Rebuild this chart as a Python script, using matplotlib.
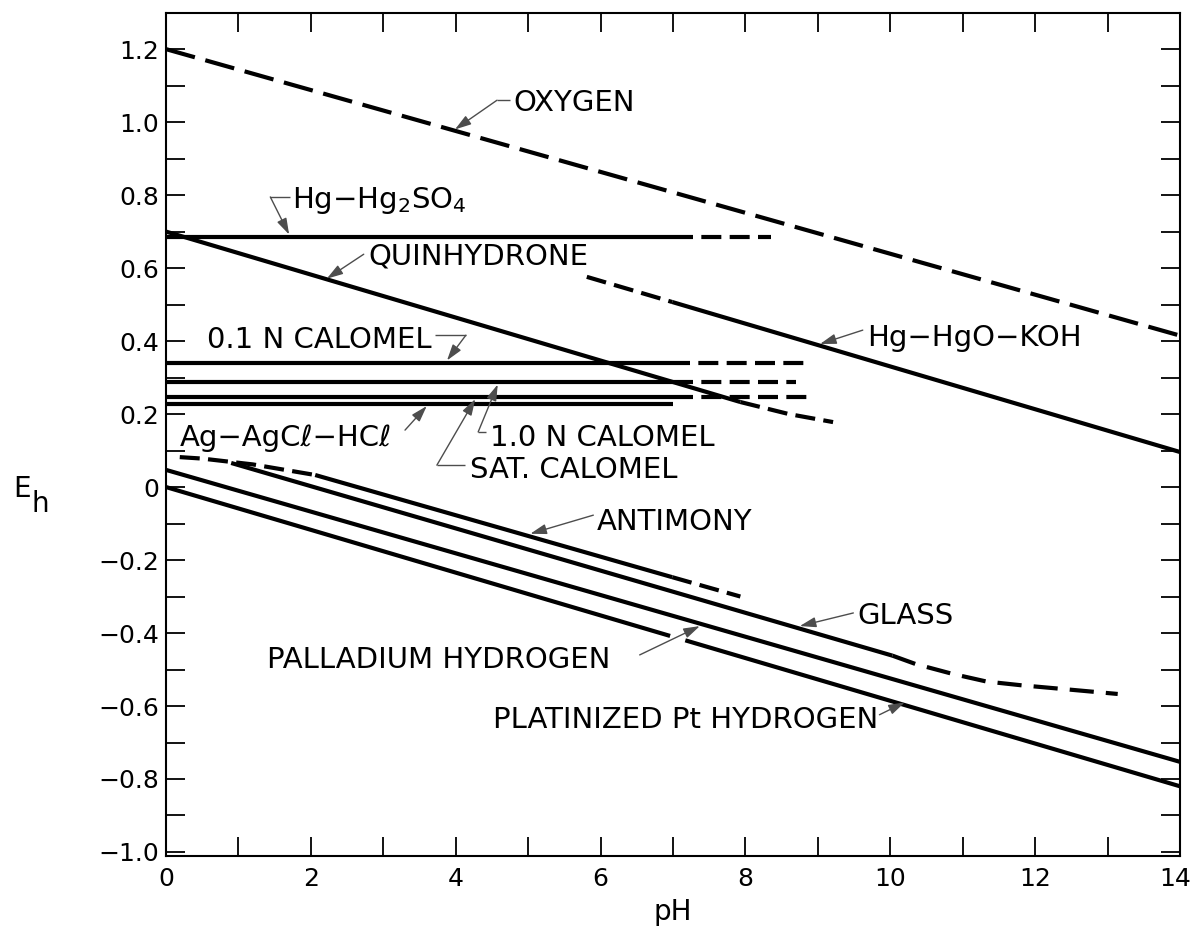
"""
Electrode potentials (Eh, volts) of common reference and indicator
electrodes as a function of pH.  Solid segments mark the usable range,
dashed segments the extrapolated or uncertain range.
"""

import numpy as np
import matplotlib
matplotlib.use("Agg")
import matplotlib.pyplot as plt
import matplotlib.transforms as mtransforms
from matplotlib.ticker import MultipleLocator, FixedLocator, FixedFormatter

# ── Data ───────────────────────────────────────────────────────────────────

OXYGEN_PH = [0.0, 14.0]
OXYGEN_EH = [1.20, 0.415]

HG2SO4_SOLID_PH = [0.0, 7.0]
HG2SO4_SOLID_EH = [0.685, 0.685]
HG2SO4_DASH_PH = [7.0, 8.35]
HG2SO4_DASH_EH = [0.685, 0.685]

QUIN_SOLID_PH = [0.0, 7.93]
QUIN_SOLID_EH = [0.700, 0.233]
QUIN_DASH_PH = [7.93, 8.60, 9.21]
QUIN_DASH_EH = [0.233, 0.200, 0.178]

HGO_DASH_PH = [5.81, 6.99]
HGO_DASH_EH = [0.576, 0.507]
HGO_SOLID_PH = [6.99, 14.0]
HGO_SOLID_EH = [0.507, 0.096]

# 0.1 N calomel, 1.0 N calomel, saturated calomel, Ag-AgCl-HCl
CALOMEL_EH = [0.340, 0.288, 0.247, 0.228]
CALOMEL_SOLID_END = [6.96, 7.00, 7.00, 7.00]
CALOMEL_DASH_END = [8.83, 8.70, 8.90, 7.00]

ANTIMONY_DASH1_PH = [0.19, 0.50, 1.20, 2.06]
ANTIMONY_DASH1_EH = [0.082, 0.078, 0.062, 0.033]
ANTIMONY_SOLID_PH = [2.06, 6.99]
ANTIMONY_SOLID_EH = [0.033, -0.247]
ANTIMONY_DASH2_PH = [6.99, 7.93]
ANTIMONY_DASH2_EH = [-0.247, -0.300]

GLASS_SOLID_PH = [0.90, 10.03]
GLASS_SOLID_EH = [0.066, -0.462]
GLASS_DASH_PH = [10.03, 10.35, 10.86, 11.33, 11.80, 12.25, 13.14]
GLASS_DASH_EH = [-0.462, -0.485, -0.512, -0.533, -0.543, -0.551, -0.567]

PALLADIUM_PH = [0.0, 14.0]
PALLADIUM_EH = [0.047, -0.753]

# the break lets the palladium leader pass through
PT_H_PH = [0.0, 6.96, np.nan, 7.17, 14.0]
PT_H_EH = [0.0, -0.408, np.nan, -0.420, -0.820]

X_TICKS = [0, 2, 4, 6, 8, 10, 12, 14]
Y_TICKS = [-1.0, -0.8, -0.6, -0.4, -0.2, 0.0, 0.2, 0.4, 0.6, 0.8, 1.0, 1.2]
Y_TICK_LABELS = ["\u22121.0", "\u22120.8", "\u22120.6", "\u22120.4", "\u22120.2",
                 "0", "0.2", "0.4", "0.6", "0.8", "1.0", "1.2"]

# label text, text anchor (left, cap-centre), leader path ending at arrow tip
LABELS = [
    ("OXYGEN", (4.79, 1.060), [(4.75, 1.060), (4.57, 1.060), (3.99, 0.980)]),
    ("Hg\u2212Hg$_2$SO$_4$", (1.74, 0.795),
     [(1.71, 0.795), (1.44, 0.795), (1.70, 0.692)]),
    ("QUINHYDRONE", (2.79, 0.638), [(2.73, 0.638), (2.22, 0.571)]),
    ("0.1 N CALOMEL", (0.57, 0.410),
     [(3.72, 0.416), (4.14, 0.416), (3.88, 0.347)]),
    ("Ag\u2212AgC\u2113\u2212HC\u2113", (0.19, 0.142),
     [(3.30, 0.156), (3.60, 0.222)]),
    ("1.0 N CALOMEL", (4.47, 0.142),
     [(4.42, 0.151), (4.31, 0.151), (4.58, 0.281)]),
    ("SAT. CALOMEL", (4.20, 0.055),
     [(4.13, 0.060), (3.74, 0.060), (4.27, 0.241)]),
    ("ANTIMONY", (5.95, -0.090), [(5.90, -0.077), (5.03, -0.128)]),
    ("GLASS", (9.54, -0.345), [(9.49, -0.345), (8.75, -0.381)]),
    ("PALLADIUM HYDROGEN", (1.39, -0.468), [(6.54, -0.460), (7.37, -0.381)]),
    ("PLATINIZED Pt HYDROGEN", (4.51, -0.630),
     [(9.85, -0.624), (10.20, -0.590)]),
    ("Hg\u2212HgO\u2212KOH", (9.68, 0.416), [(9.62, 0.430), (9.03, 0.392)]),
]

LABEL_SIZE = 21
LW = 3.0
LONG_DASH = (7.2, 2.6)
SHORT_DASH = (4.8, 2.0)
GLASS_DASH = (5.8, 2.9)
LEADER_COLOR = "0.3"
CAP_HALF = 0.029   # half cap height of the label font, in volts


def line(ax, ph, eh, dashes=None):
    kw = dict(color="black", lw=LW, solid_capstyle="butt",
              dash_capstyle="butt", solid_joinstyle="round")
    if dashes is not None:
        kw["dashes"] = dashes
    ax.plot(ph, eh, **kw)


def leader(ax, text, xy, path):
    ax.text(xy[0], xy[1] - CAP_HALF, text, fontsize=LABEL_SIZE, ha="left",
            va="baseline", color="black")
    if len(path) > 2:
        xs, ys = zip(*path[:-1])
        ax.plot(xs, ys, color=LEADER_COLOR, lw=1.0, solid_capstyle="butt")
    ax.annotate("", xy=path[-1], xytext=path[-2],
                arrowprops=dict(arrowstyle="-|>,head_length=0.7,head_width=0.22",
                                color=LEADER_COLOR, lw=1.0, mutation_scale=14,
                                shrinkA=0, shrinkB=0))


def main():
    fig = plt.figure(figsize=(11.93, 9.30), dpi=100)
    ax = fig.add_axes([166 / 1193, 74 / 930, 1014 / 1193, 843 / 930])

    line(ax, OXYGEN_PH, OXYGEN_EH, LONG_DASH)

    line(ax, HG2SO4_SOLID_PH, HG2SO4_SOLID_EH)
    line(ax, HG2SO4_DASH_PH, HG2SO4_DASH_EH, SHORT_DASH)

    line(ax, QUIN_SOLID_PH, QUIN_SOLID_EH)
    line(ax, QUIN_DASH_PH, QUIN_DASH_EH, SHORT_DASH)

    line(ax, HGO_DASH_PH, HGO_DASH_EH, SHORT_DASH)
    line(ax, HGO_SOLID_PH, HGO_SOLID_EH)

    for eh, s_end, d_end in zip(CALOMEL_EH, CALOMEL_SOLID_END, CALOMEL_DASH_END):
        line(ax, [0.0, s_end], [eh, eh])
        if d_end > s_end:
            line(ax, [s_end, d_end], [eh, eh], SHORT_DASH)

    line(ax, ANTIMONY_DASH1_PH, ANTIMONY_DASH1_EH, SHORT_DASH)
    line(ax, ANTIMONY_SOLID_PH, ANTIMONY_SOLID_EH)
    line(ax, ANTIMONY_DASH2_PH, ANTIMONY_DASH2_EH, SHORT_DASH)

    line(ax, GLASS_SOLID_PH, GLASS_SOLID_EH)
    line(ax, GLASS_DASH_PH, GLASS_DASH_EH, GLASS_DASH)

    line(ax, PALLADIUM_PH, PALLADIUM_EH)
    line(ax, PT_H_PH, PT_H_EH)

    for text, xy, path in LABELS:
        leader(ax, text, xy, path)

    ax.set_xlim(0, 14)
    ax.set_ylim(-1.011, 1.299)
    ax.xaxis.set_major_locator(FixedLocator(X_TICKS))
    ax.xaxis.set_minor_locator(MultipleLocator(1))
    ax.yaxis.set_major_locator(FixedLocator(Y_TICKS))
    ax.yaxis.set_major_formatter(FixedFormatter(Y_TICK_LABELS))
    ax.yaxis.set_minor_locator(MultipleLocator(0.1))
    ax.tick_params(which="both", direction="in", length=14, width=1.3,
                   top=True, right=True, labelsize=18, color="black")
    ax.tick_params(axis="x", which="major", pad=8)
    ax.tick_params(axis="y", which="major", pad=5)
    for sp in ax.spines.values():
        sp.set_linewidth(1.5)

    # keep the last pH label inside the canvas
    last = ax.get_xticklabels()[-1]
    last.set_transform(last.get_transform() + mtransforms.ScaledTranslation(
        -5 / 100, 0, fig.dpi_scale_trans))

    fig.text(673 / 1193, 1 - 912 / 930, "pH", fontsize=20, ha="center",
             va="center")
    fig.text(13 / 1193, 1 - 497 / 930, "E", fontsize=20, ha="left",
             va="baseline")
    fig.text(32 / 1193, 1 - 512 / 930, "h", fontsize=20, ha="left",
             va="baseline")

    fig.savefig("out.png", dpi=100)


if __name__ == "__main__":
    main()
